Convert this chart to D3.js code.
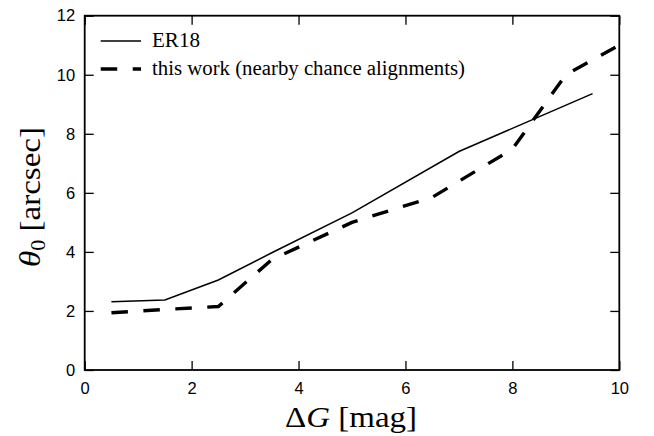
<!DOCTYPE html>
<html>
<head>
<meta charset="utf-8">
<script src="https://cdn.jsdelivr.net/npm/d3@7"></script>
<style>
  html, body { margin: 0; padding: 0; background: #fff; }
  svg { display: block; }
  .tick text { font-family: "Liberation Sans", Arial, sans-serif; font-size: 16.5px; fill: #000; }
  .serif { font-family: "Liberation Serif", "DejaVu Serif", serif; fill: #000; }
</style>
</head>
<body>
<svg id="chart" width="654" height="436"></svg>
<script>
// Angular separation threshold vs magnitude difference
const er18DeltaG = [0.5, 1.5, 2.5, 3.5, 5.0, 7.0, 9.5];
const er18Theta  = [2.31, 2.37, 3.05, 3.97, 5.32, 7.40, 9.36];

const workDeltaG = [0.5, 1.5, 2.5, 3.5, 5.0, 6.5, 8.0, 9.0, 10.0];
const workTheta  = [1.94, 2.05, 2.15, 3.74, 5.00, 5.85, 7.48, 10.0, 11.0];

const xTicks = [0, 2, 4, 6, 8, 10];
const yTicks = [0, 2, 4, 6, 8, 10, 12];

const seriesLabels = ["ER18", "this work (nearby chance alignments)"];

const svg = d3.select("#chart");
const plotLeft = 84.7, plotRight = 619.3, plotTop = 15.7, plotBottom = 370;

const x = d3.scaleLinear().domain([0, 10]).range([plotLeft, plotRight]);
const y = d3.scaleLinear().domain([0, 12]).range([plotBottom, plotTop]);

const tickLen = 9;

// bottom axis with labels, ticks pointing inward
svg.append("g")
  .attr("transform", `translate(0,${plotBottom})`)
  .call(d3.axisBottom(x).tickValues(xTicks).tickFormat(d3.format("d"))
    .tickSizeInner(-tickLen).tickSizeOuter(0).tickPadding(12))
  .call(g => g.select(".domain").remove())
  .call(g => g.selectAll(".tick line").attr("stroke", "#000").attr("stroke-width", 1.3));

// left axis with labels
svg.append("g")
  .attr("transform", `translate(${plotLeft},0)`)
  .call(d3.axisLeft(y).tickValues(yTicks).tickFormat(d3.format("d"))
    .tickSizeInner(-tickLen).tickSizeOuter(0).tickPadding(9.5))
  .call(g => g.select(".domain").remove())
  .call(g => g.selectAll(".tick line").attr("stroke", "#000").attr("stroke-width", 1.3));

// top and right axes: ticks only
svg.append("g")
  .attr("transform", `translate(0,${plotTop})`)
  .call(d3.axisTop(x).tickValues(xTicks).tickFormat("")
    .tickSizeInner(-tickLen).tickSizeOuter(0))
  .call(g => g.select(".domain").remove())
  .call(g => g.selectAll(".tick line").attr("stroke", "#000").attr("stroke-width", 1.3));

svg.append("g")
  .attr("transform", `translate(${plotRight},0)`)
  .call(d3.axisRight(y).tickValues(yTicks).tickFormat("")
    .tickSizeInner(-tickLen).tickSizeOuter(0))
  .call(g => g.select(".domain").remove())
  .call(g => g.selectAll(".tick line").attr("stroke", "#000").attr("stroke-width", 1.3));

// frame
svg.append("rect")
  .attr("x", plotLeft).attr("y", plotTop)
  .attr("width", plotRight - plotLeft).attr("height", plotBottom - plotTop)
  .attr("fill", "none").attr("stroke", "#000").attr("stroke-width", 1.8);

const line = d3.line().x(d => x(d[0])).y(d => y(d[1]));

const plot = svg.append("g");
plot.append("path")
  .datum(d3.zip(er18DeltaG, er18Theta))
  .attr("d", line)
  .attr("fill", "none").attr("stroke", "#000").attr("stroke-width", 1.5);

const dash = "16.5,15.5";
plot.append("path")
  .datum(d3.zip(workDeltaG, workTheta))
  .attr("d", line)
  .attr("fill", "none").attr("stroke", "#000").attr("stroke-width", 3.4)
  .attr("stroke-dasharray", dash);

// legend
const legend = svg.append("g");
legend.append("line")
  .attr("x1", 100.7).attr("x2", 141).attr("y1", 41).attr("y2", 41)
  .attr("stroke", "#000").attr("stroke-width", 1.5);
legend.append("line")
  .attr("x1", 100.7).attr("x2", 141).attr("y1", 69).attr("y2", 69)
  .attr("stroke", "#000").attr("stroke-width", 3.4).attr("stroke-dasharray", dash);
legend.append("text").attr("class", "serif")
  .attr("x", 152).attr("y", 47).attr("font-size", 20)
  .attr("textLength", 48).attr("lengthAdjust", "spacingAndGlyphs")
  .text(seriesLabels[0]);
legend.append("text").attr("class", "serif")
  .attr("x", 152).attr("y", 75).attr("font-size", 20)
  .attr("textLength", 313).attr("lengthAdjust", "spacingAndGlyphs")
  .text(seriesLabels[1]);

// axis titles
const xl = svg.append("text").attr("class", "serif")
  .attr("x", 285).attr("y", 427)
  .attr("font-size", 29)
  .attr("textLength", 132).attr("lengthAdjust", "spacingAndGlyphs");
xl.append("tspan").text("Δ");
xl.append("tspan").attr("font-style", "italic").text("G");
xl.append("tspan").text(" [mag]");

const yl = svg.append("text").attr("class", "serif")
  .attr("transform", "translate(40,267) rotate(-90)")
  .attr("font-size", 30)
  .attr("textLength", 140).attr("lengthAdjust", "spacingAndGlyphs");
yl.append("tspan").attr("font-style", "italic").text("θ");
yl.append("tspan").attr("font-size", 20).attr("dy", 5).text("0");
yl.append("tspan").attr("dy", -5).text(" [arcsec]");
</script>
</body>
</html>
